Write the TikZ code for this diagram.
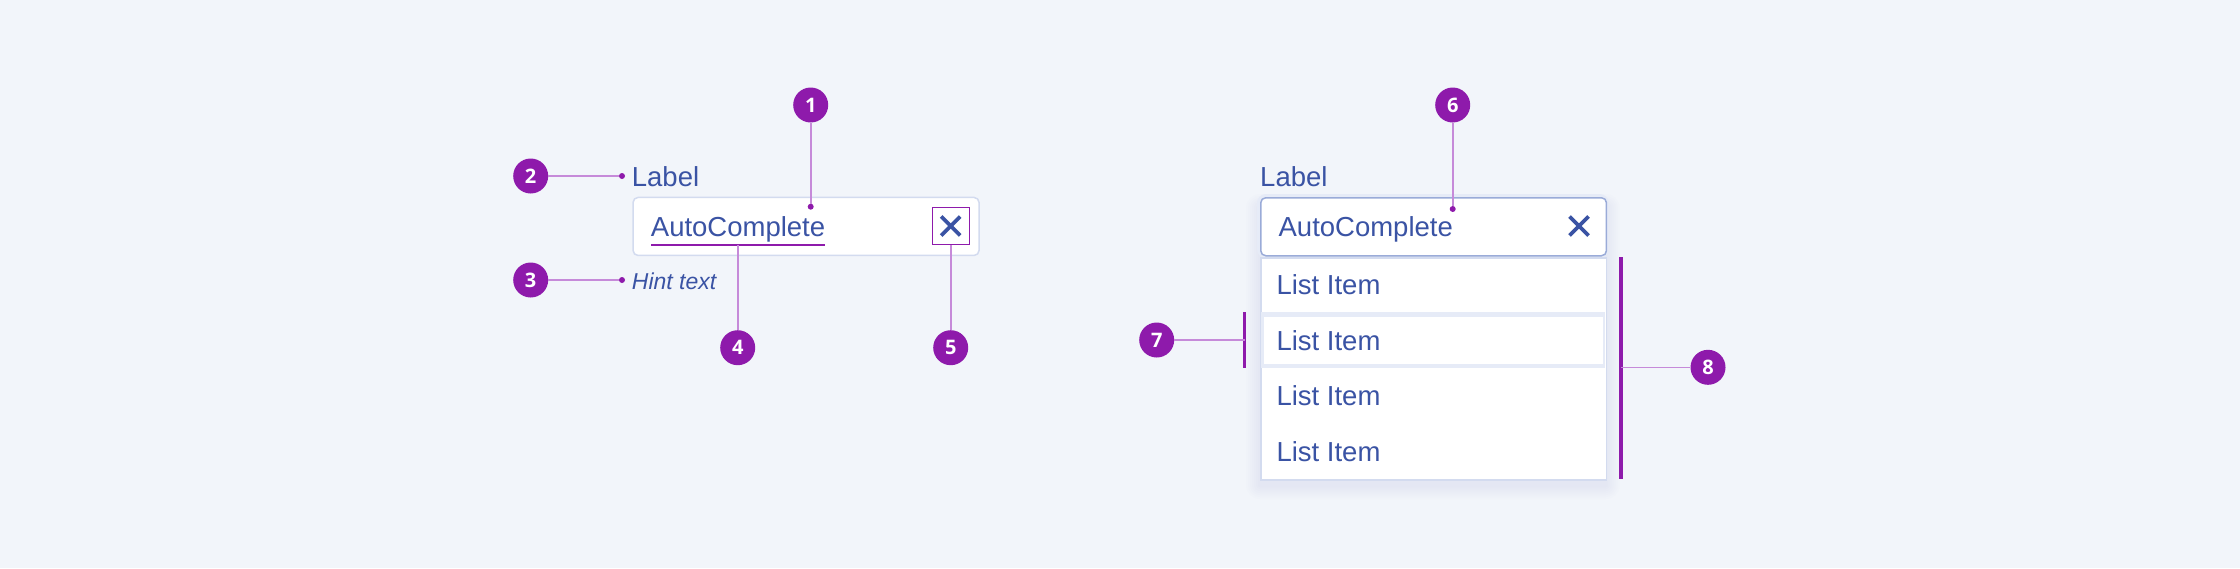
\documentclass[tikz,border=0pt]{standalone}
\usepackage{fontspec}
\setmainfont{Liberation Sans}
\newfontfamily\badgefont{Open Sans}
\definecolor{bg}{HTML}{F2F5FA}
\definecolor{txt}{HTML}{3A53A4}
\definecolor{pur}{HTML}{8E1AAB}
\definecolor{lead}{HTML}{C68AD9}
\definecolor{bord}{HTML}{D3DBEF}
\definecolor{focus}{HTML}{9AABD8}
\definecolor{hov}{HTML}{E6EBF7}
\definecolor{shadowc}{HTML}{B8C4E6}
\begin{document}
\begin{tikzpicture}[x=1pt,y=-1pt,
 badge/.style={circle,fill=pur,minimum size=35pt,inner sep=0pt,text=white,font=\badgefont\bfseries\fontsize{20}{20}\selectfont},
 leader/.style={draw=lead,line width=1.6pt},
 dotm/.style={circle,fill=pur,inner sep=0pt,minimum size=6pt},
 txtn/.style={anchor=base west,inner sep=0pt,text=txt,font=\fontsize{27.5}{33}\selectfont},
 bracket/.style={draw=pur,line width=3.3pt},
 crossline/.style={draw=txt,line width=3.6pt},
 fieldbox/.style={fill=white,rounded corners=5pt,line width=1.5pt,inner sep=0pt,anchor=north west,minimum width=346pt,minimum height=58pt},
]
\fill[bg] (0,0) rectangle (2240,568);
\useasboundingbox (0,0) rectangle (2240,568);

% ---------- left field ----------
\node[fieldbox,draw=bord] (box1) at (632.3,196.7) {};
\node[txtn] (lab1) at (631.7,186) {Label};
\node[txtn] (ac1) at (650.7,236) {AutoComplete};
\node[txtn,font=\itshape\fontsize{23}{28}\selectfont] (hint) at (631.7,289.3) {Hint text};
\coordinate (ulA) at (651,244.5);
\coordinate (ulB) at (825,244.5);
\coordinate (u4) at (737.7,244.5);
\draw[pur,line width=2pt] (ulA) -- (ulB);
\node[draw=pur,line width=1pt,minimum size=37pt,inner sep=0pt] (x1) at (950.7,226) {};
\draw[crossline] (941.2,216.5) -- (960.2,235.5);
\draw[crossline] (941.2,235.5) -- (960.2,216.5);

\node[badge] (b1) at (810.7,105) {1};
\node[dotm] (d1) at (810.7,206.7) {};
\draw[leader] (b1) -- (d1);
\node[badge] (b2) at (530.7,176) {2};
\node[dotm] (d2) at (622,176) {};
\draw[leader] (b2) -- (d2);
\node[badge] (b3) at (530.7,280) {3};
\node[dotm] (d3) at (622,280) {};
\draw[leader] (b3) -- (d3);
\node[badge] (b4) at (737.7,347.7) {4};
\draw[leader] (u4) -- (b4);
\node[badge] (b5) at (950.7,347.7) {5};
\draw[leader] (x1.south) -- (b5);

% ---------- right field ----------
\foreach \s in {2,4,...,14}{
  \fill[shadowc,opacity=0.03,rounded corners=\s pt] ({1260-\s},{200-\s+8}) rectangle ({1605.7+\s},{479+\s+6});
}
\draw[hov,line width=6pt,rounded corners=6pt] (1260,197) rectangle (1605.7,255);
\node[fieldbox,draw=focus,minimum width=345.7pt] (box2) at (1260,197) {};
\node[draw=bord,fill=white,line width=1.5pt,inner sep=0pt,anchor=north west,minimum width=345.7pt,minimum height=222pt] (list) at (1260,257) {};
\fill[hov] (1261,312) rectangle (1605,368);
\fill[white] (1263.5,316.5) rectangle (1602.5,363.5);

\node[txtn] (lab2) at (1260,186) {Label};
\node[txtn] (ac2) at (1278.4,236) {AutoComplete};
\draw[crossline] (1569.5,216.5) -- (1588.5,235.5);
\draw[crossline] (1569.5,235.5) -- (1588.5,216.5);
\node[txtn] (it1) at (1276.3,294) {List Item};
\node[txtn] (it2) at (1276.3,350) {List Item};
\node[txtn] (it3) at (1276.3,405.5) {List Item};
\node[txtn] (it4) at (1276.3,461) {List Item};

\node[badge] (b6) at (1452.7,105) {6};
\node[dotm] (d6) at (1452.7,209) {};
\draw[leader] (b6) -- (d6);

\coordinate (br7t) at (1244.5,312);
\coordinate (br7b) at (1244.5,368);
\coordinate (br7m) at (1244.5,340);
\draw[bracket] (br7t) -- (br7b);
\node[badge] (b7) at (1156.7,340) {7};
\draw[leader] (b7) -- (br7m);

\coordinate (br8t) at (1621,257);
\coordinate (br8b) at (1621,479);
\coordinate (br8m) at (1621,367.3);
\draw[bracket] (br8t) -- (br8b);
\node[badge] (b8) at (1708,367.3) {8};
\draw[leader] (br8m) -- (b8);
\end{tikzpicture}
\end{document}
